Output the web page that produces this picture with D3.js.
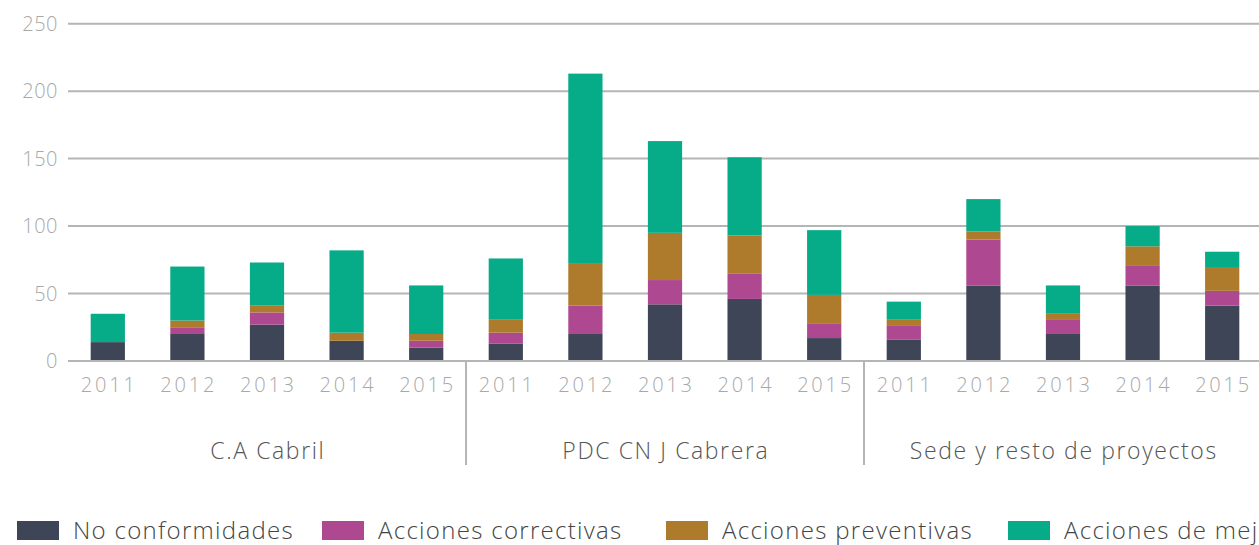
<!DOCTYPE html>
<html>
<head>
<meta charset="utf-8">
<script src="https://cdn.jsdelivr.net/npm/d3@7"></script>
<style>
  body { margin: 0; background: #fff; }
  svg { display: block; font-family: 'Open Sans', sans-serif; font-weight: 300; }
</style>
</head>
<body>
<svg id="chart"></svg>
<script>
const groups = ['C.A Cabril', 'PDC CN J Cabrera', 'Sede y resto de proyectos'];
const years = ['2011', '2012', '2013', '2014', '2015'];
const seriesNames = ['No conformidades', 'Acciones correctivas', 'Acciones preventivas', 'Acciones de mejora'];
const colors = ['#3e4556', '#ae4891', '#ad7b2b', '#06ab88'];
const yTicks = [0, 50, 100, 150, 200, 250];

// one value per group/year, in group order
const noConformidades = [14, 20, 27, 15, 10, 13, 20, 42, 46, 17, 16, 56, 20, 56, 41];
const correctivas = [0, 5, 9, 0, 5, 8, 21, 18, 19, 11, 10, 34, 11, 15, 11];
const preventivas = [0, 5, 5, 6, 5, 10, 31, 35, 28, 21, 5, 6, 4, 14, 17];
const mejora = [21, 40, 32, 61, 36, 45, 141, 68, 58, 48, 13, 24, 21, 15, 12];

const width = 1259;
const height = 545;
const left = 68;
const right = 1262;
const baseline = 361;
const legendX = [17, 322, 666, 1008];

const rows = [];
groups.forEach((g, gi) => {
  years.forEach((yr, yi) => {
    const i = gi * years.length + yi;
    rows.push({
      group: g,
      year: yr,
      'No conformidades': noConformidades[i],
      'Acciones correctivas': correctivas[i],
      'Acciones preventivas': preventivas[i],
      'Acciones de mejora': mejora[i]
    });
  });
});

const svg = d3.select('#chart')
  .attr('width', width)
  .attr('height', height);

const x0 = d3.scaleBand().domain(groups).range([left, right]);
const x1 = d3.scaleBand().domain(years).range([0, x0.bandwidth()]);
const barW = x1.bandwidth() * 0.43;

const y = d3.scaleLinear().domain([0, 250]).range([baseline, 23.7]);

// gridlines + y labels
const grid = svg.append('g');
grid.selectAll('line')
  .data(yTicks)
  .enter()
  .append('line')
  .attr('x1', left)
  .attr('x2', width)
  .attr('y1', d => y(d))
  .attr('y2', d => y(d))
  .attr('stroke', '#b5b5b5')
  .attr('stroke-width', 2);

grid.selectAll('text')
  .data(yTicks)
  .enter()
  .append('text')
  .attr('x', 58)
  .attr('y', d => y(d))
  .attr('dy', '0.35em')
  .attr('text-anchor', 'end')
  .attr('fill', '#a8a8a8')
  .style('font-size', '20px')
  .style('letter-spacing', '0.5px')
  .text(d => d);

// stacked bars
const stack = d3.stack().keys(seriesNames)(rows);

svg.append('g')
  .selectAll('g')
  .data(stack)
  .enter()
  .append('g')
  .attr('fill', (d, i) => colors[i])
  .selectAll('rect')
  .data(d => d)
  .enter()
  .append('rect')
  .attr('x', d => x0(d.data.group) + x1(d.data.year) + (x1.bandwidth() - barW) / 2)
  .attr('width', barW)
  .attr('y', d => y(d[1]))
  .attr('height', d => y(d[0]) - y(d[1]));

// baseline on top of bars
svg.append('line')
  .attr('x1', left)
  .attr('x2', width)
  .attr('y1', baseline)
  .attr('y2', baseline)
  .attr('stroke', '#b5b5b5')
  .attr('stroke-width', 2);

// year labels
svg.append('g')
  .selectAll('text')
  .data(rows)
  .enter()
  .append('text')
  .attr('x', d => x0(d.group) + x1(d.year) + x1.bandwidth() / 2 + 1.4)
  .attr('y', 392)
  .attr('text-anchor', 'middle')
  .attr('fill', '#a8a8a8')
  .style('font-size', '20px')
  .style('letter-spacing', '2.8px')
  .text(d => d.year);

// group separators
svg.append('g')
  .selectAll('line')
  .data(groups.slice(1))
  .enter()
  .append('line')
  .attr('x1', d => x0(d))
  .attr('x2', d => x0(d))
  .attr('y1', baseline)
  .attr('y2', 465)
  .attr('stroke', '#b5b5b5')
  .attr('stroke-width', 2);

// group labels
svg.append('g')
  .selectAll('text')
  .data(groups)
  .enter()
  .append('text')
  .attr('x', d => x0(d) + x0.bandwidth() / 2 + 0.8)
  .attr('y', 459)
  .attr('text-anchor', 'middle')
  .attr('fill', '#555')
  .style('font-size', '23px')
  .style('letter-spacing', '1.6px')
  .text(d => d);

// legend
const legend = svg.append('g')
  .selectAll('g')
  .data(seriesNames)
  .enter()
  .append('g')
  .attr('transform', (d, i) => 'translate(' + legendX[i] + ',0)');

legend.append('rect')
  .attr('y', 521)
  .attr('width', 42)
  .attr('height', 19)
  .attr('fill', (d, i) => colors[i]);

legend.append('text')
  .attr('x', 56)
  .attr('y', 539)
  .attr('fill', '#444')
  .style('font-size', '24px')
  .style('letter-spacing', '1.3px')
  .text(d => d);
</script>
</body>
</html>
